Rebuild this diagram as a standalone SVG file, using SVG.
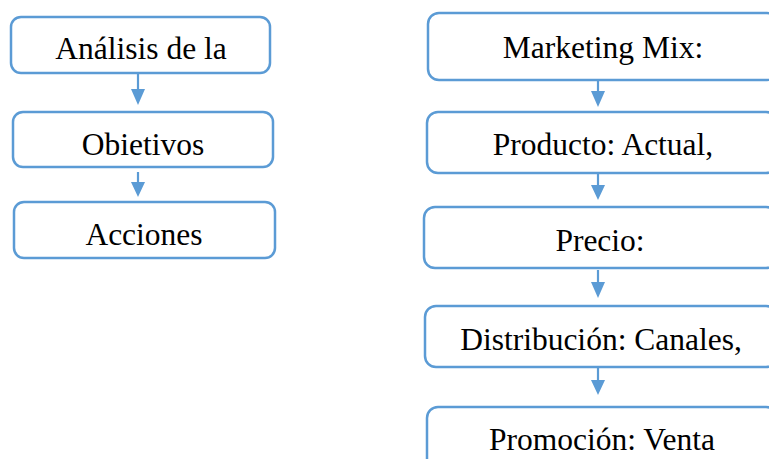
<svg xmlns="http://www.w3.org/2000/svg" width="769" height="459" viewBox="0 0 769 459">
<style>
.box{fill:#fff;stroke:#5B9BD5;stroke-width:2.5}
.lbl{font-family:"Liberation Serif","Times New Roman",serif;font-size:31.5px;fill:#000;text-anchor:middle}
.con{stroke:#5B9BD5;stroke-width:2.2;fill:none}
.head{fill:#5B9BD5}
</style>
<rect width="769" height="459" fill="#fff"/>
<g id="connectors">
<path d="M138,95 V74" class="con"/>
<polygon class="head" points="131,89 145,89 138,105"/>
<path d="M138,172 V185" class="con"/>
<polygon class="head" points="131,182 145,182 138,197"/>
<path d="M598,81 V94" class="con"/>
<polygon class="head" points="591,91 605,91 598,107"/>
<path d="M598,174 V188" class="con"/>
<polygon class="head" points="591,185 605,185 598,200"/>
<path d="M598,270 V285" class="con"/>
<polygon class="head" points="591,282 605,282 598,298"/>
<path d="M598,368 V383" class="con"/>
<polygon class="head" points="591,380 605,380 598,395"/>
</g>
<g id="n1"><rect class="box" x="11" y="17" width="259" height="56" rx="10"/><text class="lbl" x="141" y="59">Análisis de la</text></g>
<g id="n2"><rect class="box" x="13" y="112" width="260" height="55" rx="10"/><text class="lbl" x="143" y="155">Obietivos</text></g>
<g id="n3"><rect class="box" x="14" y="202" width="261" height="56" rx="10"/><text class="lbl" x="144" y="245">Acciones</text></g>
<g id="m1"><rect class="box" x="428" y="13" width="350" height="67" rx="11"/><text class="lbl" x="603" y="58">Marketing Mix:</text></g>
<g id="m2"><rect class="box" x="427" y="112" width="350" height="61" rx="11"/><text class="lbl" x="603" y="155">Producto: Actual,</text></g>
<g id="m3"><rect class="box" x="424" y="207" width="353" height="61" rx="11"/><text class="lbl" x="600" y="251">Precio:</text></g>
<g id="m4"><rect class="box" x="425" y="306" width="352" height="61" rx="11"/><text class="lbl" x="601" y="350">Distribución: Canales,</text></g>
<g id="m5"><rect class="box" x="427" y="407" width="350" height="70" rx="11"/><text class="lbl" x="602" y="450">Promoción: Venta</text></g>
</svg>
